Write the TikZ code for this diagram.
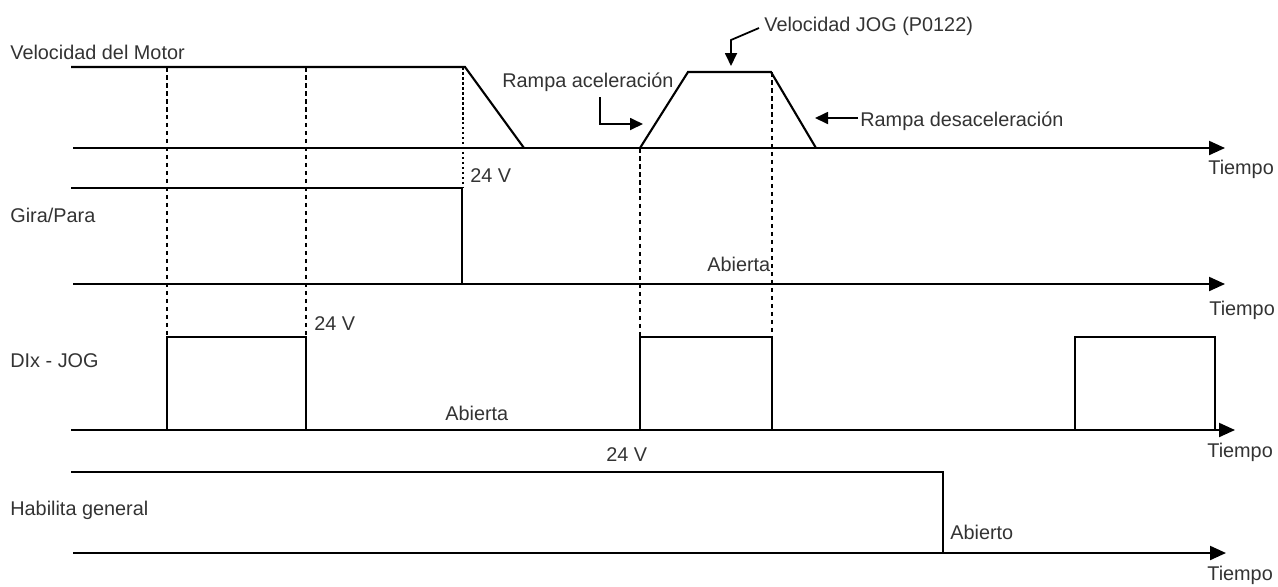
\documentclass[tikz,border=0pt]{standalone}
\usepackage{fontspec}
\setmainfont{Liberation Sans}
\usetikzlibrary{arrows.meta}
\begin{document}
\begin{tikzpicture}[x=0.02cm,y=-0.02cm,
  sig/.style={line width=1.2pt, line join=miter},
  thinsig/.style={line width=0.9pt, line join=miter},
  axisline/.style={line width=1.2pt, -{Triangle[length=0.32cm,width=0.28cm]}},
  guide/.style={line width=1.3pt, dash pattern=on 0.09cm off 0.07cm},
  fineguide/.style={line width=0.7pt, dash pattern=on 0.05cm off 0.05cm},
  lbl/.style={anchor=base west, inner sep=0pt, text=black!80, font=\fontsize{11.3}{13}\selectfont},
  note/.style={line width=1pt, -{Triangle[length=0.26cm,width=0.24cm]}}]
\useasboundingbox (0,0) rectangle (1278,586);

% ---------- coordinates ----------
% motor speed
\coordinate (vS) at (71,67);   \coordinate (vE) at (465,67);  \coordinate (vZ) at (524,148);
\coordinate (va0) at (73,148); \coordinate (va1) at (1225,148);
\coordinate (j0) at (640,148); \coordinate (j1) at (688,72); \coordinate (j2) at (771,72); \coordinate (j3) at (816,148);
% gira/para
\coordinate (gS) at (71,188); \coordinate (gE) at (462,188); \coordinate (gZ) at (462,284);
\coordinate (ga0) at (73,284); \coordinate (ga1) at (1225,284);
% DIx
\coordinate (da0) at (71,430); \coordinate (da1) at (1235,430);
% habilita
\coordinate (hS) at (71,472); \coordinate (hE) at (943,472); \coordinate (hZ) at (943,553);
\coordinate (ha0) at (73,553); \coordinate (ha1) at (1226,553);

% ---------- guides ----------
\draw[guide] (167,67) -- (167,337);
\draw[guide] (306,67) -- (306,337);
\draw[fineguide] (463,67) -- (463,188);
\draw[guide] (640,148) -- (640,337);
\draw[guide] (772,72) -- (772,337);

% ---------- motor speed ----------
\draw[sig] (vS) -- (vE) -- (vZ);
\draw[axisline] (va0) -- (va1);
\draw[sig] (j0) -- (j1) -- (j2) -- (j3);

% ---------- gira/para ----------
\draw[sig] (gS) -- (gE) -- (gZ);
\draw[axisline] (ga0) -- (ga1);

% ---------- DIx - JOG ----------
\draw[axisline] (da0) -- (da1);
\draw[sig] (167,430) -- (167,337) -- (306,337) -- (306,430);
\draw[thinsig] (640,430) -- (640,337) -- (772,337) -- (772,430);
\draw[sig] (1075,430) -- (1075,337) -- (1215,337) -- (1215,430);

% ---------- habilita general ----------
\draw[sig] (hS) -- (hE) -- (hZ);
\draw[axisline] (ha0) -- (ha1);

% ---------- labels ----------
\node[lbl] (lv) at (10,59) {Velocidad del Motor};
\node[lbl] (lg) at (10,222) {Gira/Para};
\node[lbl] (ld) at (10,367) {DIx - JOG};
\node[lbl] (lh) at (10,515) {Habilita general};

\node[lbl] (v24a) at (470,182) {24 V};
\node[lbl] (v24b) at (314,330) {24 V};
\node[lbl] (v24c) at (606,461) {24 V};
\node[lbl] (ab1) at (707,271) {Abierta};
\node[lbl] (ab2) at (445,420) {Abierta};
\node[lbl] (ab3) at (950,539) {Abierto};

\node[lbl] (t1) at (1208,174) {Tiempo};
\node[lbl] (t2) at (1209,315) {Tiempo};
\node[lbl] (t3) at (1207,457) {Tiempo};
\node[lbl] (t4) at (1207,580) {Tiempo};

\node[lbl] (racc) at (502,87) {Rampa aceleración};
\node[lbl] (rdec) at (860,126) {Rampa desaceleración};
\node[lbl] (vjog) at (764,31) {Velocidad JOG (P0122)};

% ---------- annotation arrows ----------
\coordinate (accA) at (600,97); \coordinate (accB) at (600,124); \coordinate (accT) at (643,124);
\draw[note] (accA) -- (accB) -- (accT);
\coordinate (decA) at (858,118); \coordinate (decT) at (815,118);
\draw[note] (decA) -- (decT);
\coordinate (jogA) at (759,28); \coordinate (jogB) at (731,40); \coordinate (jogT) at (731,66);
\draw[note] (jogA) -- (jogB) -- (jogT);
\end{tikzpicture}
\end{document}
